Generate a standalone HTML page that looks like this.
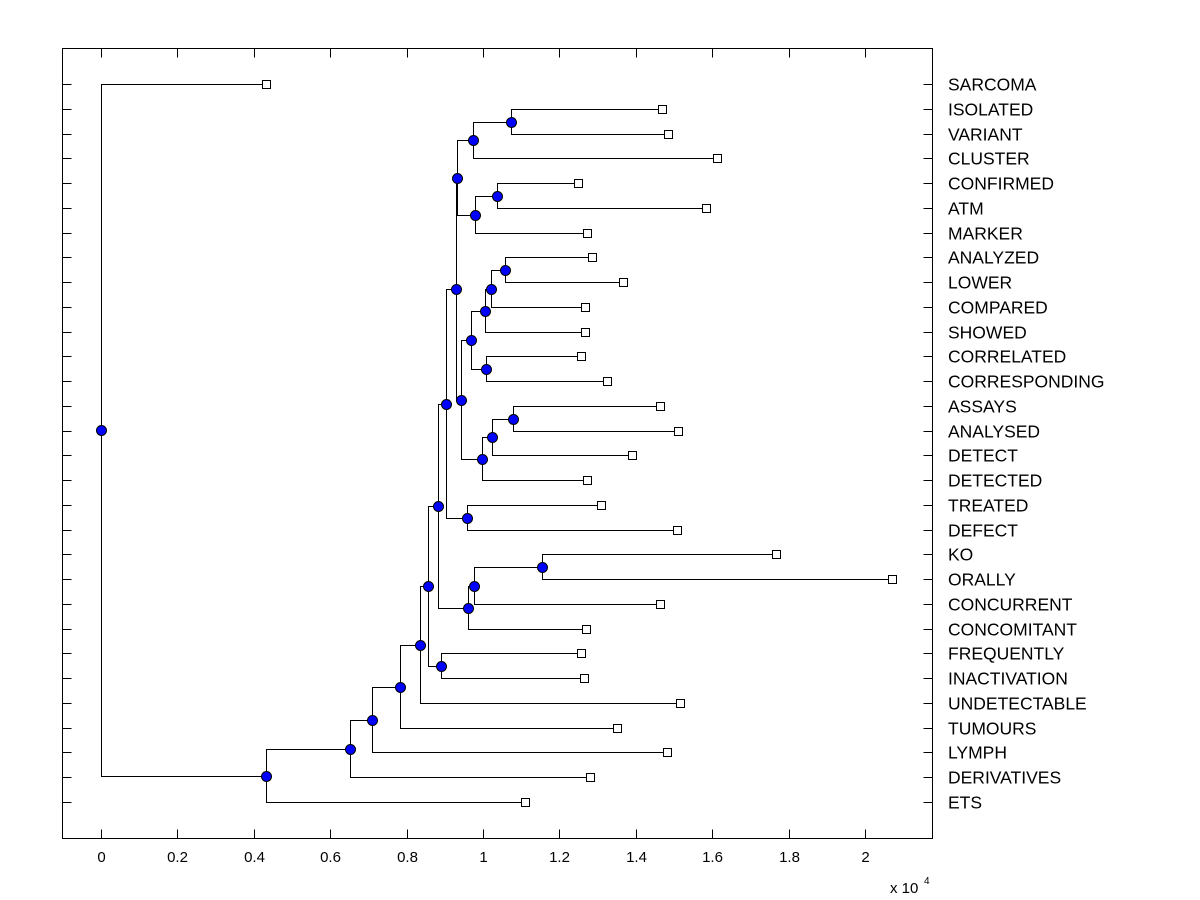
<!DOCTYPE html>
<html><head><meta charset="utf-8"><style>
html,body{margin:0;padding:0;background:#fff;}
svg{display:block;font-family:"Liberation Sans",Arial,sans-serif;}
</style></head><body>
<svg id="chart" width="1200" height="900" viewBox="0 0 1200 900" xmlns="http://www.w3.org/2000/svg">
<rect x="0" y="0" width="1200" height="900" fill="#fff"/>
<g id="axes" shape-rendering="crispEdges"></g>
<g id="links" shape-rendering="crispEdges"></g>
<g id="marks"></g>
</svg>
<script>
const leafLabels=["SARCOMA","ISOLATED","VARIANT","CLUSTER","CONFIRMED","ATM","MARKER","ANALYZED","LOWER","COMPARED","SHOWED","CORRELATED","CORRESPONDING","ASSAYS","ANALYSED","DETECT","DETECTED","TREATED","DEFECT","KO","ORALLY","CONCURRENT","CONCOMITANT","FREQUENTLY","INACTIVATION","UNDETECTABLE","TUMOURS","LYMPH","DERIVATIVES","ETS"];
const leafValues=[0.432,1.469,1.484,1.613,1.249,1.584,1.272,1.285,1.366,1.267,1.267,1.257,1.325,1.463,1.510,1.390,1.272,1.309,1.508,1.767,2.071,1.463,1.270,1.257,1.264,1.516,1.351,1.482,1.280,1.110];
const nodeNames=["S","Q","T","R","O","Y","W","Z","X","U","V2","V1","V","P","M","N","I","L","K","J","G","H","F","E","D","C","B","A","ROOT"];
const nodeLeft=["ISOLATED","S","CONFIRMED","T","Q","ANALYZED","Y","W","CORRELATED","Z","ASSAYS","V2","V1","U","O","TREATED","M","KO","L","K","I","FREQUENTLY","G","F","E","D","C","B","SARCOMA"];
const nodeRight=["VARIANT","CLUSTER","ATM","MARKER","R","LOWER","COMPARED","SHOWED","CORRESPONDING","X","ANALYSED","DETECT","DETECTED","V","P","DEFECT","N","ORALLY","CONCURRENT","CONCOMITANT","J","INACTIVATION","H","UNDETECTABLE","TUMOURS","LYMPH","DERIVATIVES","ETS","A"];
const nodeValues=[1.073,0.974,1.037,0.979,0.932,1.058,1.021,1.005,1.008,0.969,1.079,1.024,0.997,0.942,0.929,0.958,0.903,1.154,0.976,0.961,0.882,0.890,0.856,0.835,0.783,0.709,0.652,0.432,0];
const xTicks=[0,0.2,0.4,0.6,0.8,1,1.2,1.4,1.6,1.8,2];
const xTickLabels=["0","0.2","0.4","0.6","0.8","1","1.2","1.4","1.6","1.8","2"];

const NS="http://www.w3.org/2000/svg";
const L=62.5,R=932.5,T=48.5,B=838.5;
const x=v=>Math.round(101+v*382)+0.5;
const y=i=>Math.round(84+i*(802-84)/29)+0.5;
function mk(tag,attrs,parent){const e=document.createElementNS(NS,tag);for(const k in attrs)e.setAttribute(k,attrs[k]);parent.appendChild(e);return e;}
const axes=document.getElementById('axes'),links=document.getElementById('links'),marks=document.getElementById('marks');

let box=mk('rect',{x:L,y:T,width:R-L,height:B-T,fill:'none',stroke:'#000','stroke-width':1},axes);


xTicks.forEach((t,i)=>{
  const px=x(t);
  let a=mk('line',{x1:px,y1:B,x2:px,y2:B-9,stroke:'#000'},axes);
  
  
  let b=mk('line',{x1:px,y1:T,x2:px,y2:T+9,stroke:'#000'},axes);
  
  
  let tx=mk('text',{x:px,y:862,'text-anchor':'middle','font-size':15},axes);
  tx.textContent=xTickLabels[i];
  
  
});
let ex=mk('text',{x:890,y:893,'font-size':15},axes);
ex.textContent='x 10';


let ex2=mk('text',{x:924,y:884,'font-size':10},axes);
ex2.textContent='4';



leafLabels.forEach((lab,i)=>{
  const py=y(i);
  let a=mk('line',{x1:L,y1:py,x2:L+9,y2:py,stroke:'#000'},axes);
  
  
  let b=mk('line',{x1:R-9,y1:py,x2:R,y2:py,stroke:'#000'},axes);
  
  
  let tx=mk('text',{x:948,y:py+6,'font-size':17.5},axes);
  tx.textContent=lab;
  
  
});

const pos={};
leafLabels.forEach((lab,i)=>{pos[lab]={v:leafValues[i],y:y(i),leaf:true};});
nodeNames.forEach((n,i)=>{
  const a=pos[nodeLeft[i]],b=pos[nodeRight[i]];
  pos[n]={v:nodeValues[i],y:Math.round((a.y+b.y)/2-0.5)+0.5,leaf:false};
});
nodeNames.forEach((n,i)=>{
  const p=pos[n],a=pos[nodeLeft[i]],b=pos[nodeRight[i]];
  const px=x(p.v);
  const pth=mk('path',{d:`M${x(a.v)},${a.y}H${px}V${b.y}H${x(b.v)}`,fill:'none',stroke:'#000','stroke-width':1},links);
  
  
});
nodeNames.forEach((n)=>{
  const p=pos[n];
  const c=mk('circle',{cx:x(p.v),cy:p.y,r:5,fill:'#0000ff',stroke:'#000','stroke-width':1},marks);
  
  
});
leafLabels.forEach((lab)=>{
  const p=pos[lab];
  const s=mk('rect',{x:x(p.v)-4,y:p.y-4,width:8,height:8,fill:'#fff',stroke:'#000','stroke-width':1,'shape-rendering':'crispEdges'},marks);
  
  
});
</script>
</body></html>
